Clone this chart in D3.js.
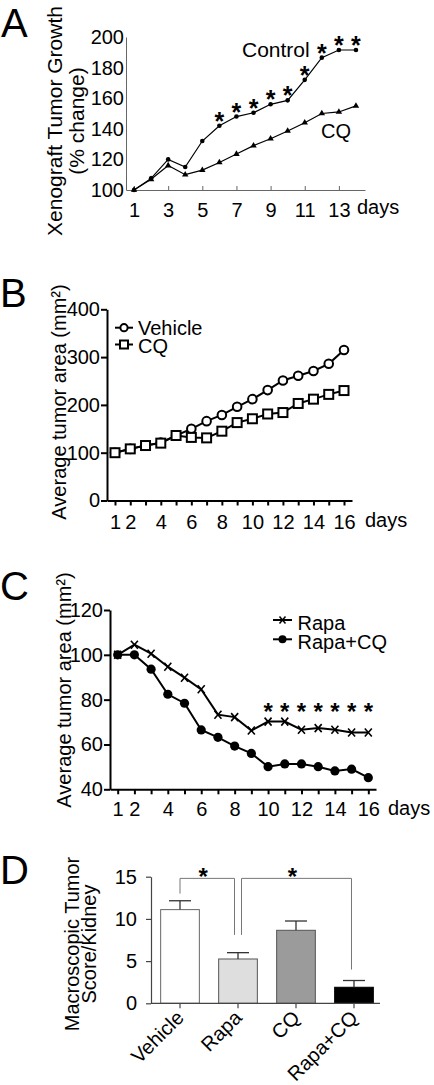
<!DOCTYPE html>
<html><head><meta charset="utf-8">
<script src="https://cdn.jsdelivr.net/npm/d3@7"></script>
<style>
body{margin:0;background:#fff;}
svg{display:block;font-family:"Liberation Sans",Arial,Helvetica,sans-serif;}
</style></head><body>
<svg id="c" width="434" height="1085"></svg>
<script>
// ---------- Panel A data ----------
const daysA = [1,2,3,4,5,6,7,8,9,10,11,12,13,14];
const controlA = [100,107.6,120,115,132,142,148,150.5,156,158.6,172,186.5,191.5,191.5];
const cqA = [100,107,116,110,113,118,123.5,129,133.5,138.6,144,150,151,155];
const sigDaysA = [6,7,8,9,10,11,12,13,14];
const xTicksA = [1,3,5,7,9,11,13];
const yTicksA = [100,120,140,160,180,200];

// ---------- Panel B data ----------
const daysB = [1,2,3,4,5,6,7,8,9,10,11,12,13,14,15,16];
const vehicleB = [100,108,115,121,136,150,166,179,196,212,231,251,261,271,286,315];
const cqB = [100,108,115,120,136,132,131,145,163,171,181,184,203,212,222,230];
const xTicksB = [1,2,4,6,8,10,12,14,16];
const yTicksB = [0,100,200,300,400];

// ---------- Panel C data ----------
const daysC = [1,2,3,4,5,6,7,8,9,10,11,12,13,14,15,16];
const rapaC = [100,104.5,100.5,94.7,89.8,84.6,73.3,72.2,66.2,70.2,70.2,66.6,67.3,66.6,65.3,65.3];
const rapaCqC = [100,100,93.6,82.4,78.4,66.5,63.2,59.3,56,50.1,51.3,51.3,50.1,48.2,49,45.2];
const sigDaysC = [10,11,12,13,14,15,16];
const xTicksC = [1,2,4,6,8,10,12,14,16];
const yTicksC = [40,60,80,100,120];

// ---------- Panel D data ----------
const groupsD = ["Vehicle","Rapa","CQ","Rapa+CQ"];
const meansD = [11.1,5.25,8.65,1.9];
const semD = [1.05,0.75,1.1,0.8];
const yTicksD = [0,5,10,15];

const svg = d3.select("#c");
const FS = 20;

function panelLetter(t, x, y){
  svg.append("text").attr("x",x).attr("y",y).attr("font-size",40).text(t);
}
function rotTitle(lines, cy, baselines, fs){
  lines.forEach((l,i)=>{
    svg.append("text").attr("transform",`translate(${baselines[i]},${cy}) rotate(-90)`)
      .attr("text-anchor","middle").attr("font-size",fs).text(l);
  });
}
function styleAxis(g, w, color){
  g.selectAll("path,line").attr("stroke",color).attr("stroke-width",w);
  g.selectAll("text").attr("font-size",FS).attr("fill","#000").attr("font-family","Liberation Sans, Arial, sans-serif");
}

// ================= Panel A =================
{
  const x = d3.scaleLinear().domain([0.53,14.53]).range([126,365]);
  const y = d3.scaleLinear().domain([100,200]).range([190,37]);
  const gx = svg.append("g").attr("transform","translate(0,190)")
    .call(d3.axisBottom(x).tickValues(xTicksA).tickSizeInner(-4).tickSizeOuter(0).tickPadding(13));
  styleAxis(gx,1,"#666");
  const gy = svg.append("g").attr("transform","translate(126,0)")
    .call(d3.axisLeft(y).tickValues(yTicksA).tickSizeInner(0).tickSizeOuter(0).tickPadding(2));
  styleAxis(gy,1,"#666");
  const line = d3.line().x((d,i)=>x(daysA[i])).y(d=>y(d));
  svg.append("path").datum(controlA).attr("d",line).attr("fill","none").attr("stroke","#000").attr("stroke-width",1.2);
  svg.append("path").datum(cqA).attr("d",line).attr("fill","none").attr("stroke","#000").attr("stroke-width",1.2);
  svg.selectAll(".ca").data(controlA).join("circle").attr("cx",(d,i)=>x(daysA[i])).attr("cy",d=>y(d)).attr("r",2.3).attr("fill","#000");
  svg.selectAll(".ta").data(cqA).join("path").attr("transform",(d,i)=>`translate(${x(daysA[i])},${y(d)})`)
    .attr("d",d3.symbol(d3.symbolTriangle,18)).attr("fill","#000");
  svg.selectAll(".sa").data(sigDaysA).join("text")
    .attr("x",d=>x(d)).attr("y",d=>y(controlA[daysA.indexOf(d)])+4)
    .attr("text-anchor","middle").attr("font-size",25).attr("font-weight","bold").text("*");
  svg.append("text").attr("x",242).attr("y",57).attr("font-size",21).text("Control");
  svg.append("text").attr("x",321).attr("y",138).attr("font-size",20).text("CQ");
  svg.append("text").attr("x",357).attr("y",214).attr("font-size",FS).text("days");
  rotTitle(["Xenograft Tumor Growth","(% change)"],121,[62,84],21);
  panelLetter("A",1,37);
}

// ================= Panel B =================
{
  const x = d3.scaleLinear().domain([0.476,16.524]).range([107,352]);
  const y = d3.scaleLinear().domain([0,400]).range([500.5,309.3]);
  const gx = svg.append("g").attr("transform","translate(0,500.5)")
    .call(d3.axisBottom(x).tickValues(daysB).tickFormat(d=>xTicksB.includes(d)?d:"").tickSizeInner(5).tickSizeOuter(0).tickPadding(9));
  styleAxis(gx,2,"#000");
  const gy = svg.append("g").attr("transform","translate(107,0)")
    .call(d3.axisLeft(y).tickValues(yTicksB).tickSizeInner(6).tickSizeOuter(0).tickPadding(1));
  styleAxis(gy,2,"#000");
  const line = d3.line().x((d,i)=>x(daysB[i])).y(d=>y(d));
  svg.append("path").datum(vehicleB).attr("d",line).attr("fill","none").attr("stroke","#000").attr("stroke-width",2);
  svg.append("path").datum(cqB).attr("d",line).attr("fill","none").attr("stroke","#000").attr("stroke-width",2);
  svg.selectAll(".cb").data(vehicleB).join("circle").attr("cx",(d,i)=>x(daysB[i])).attr("cy",d=>y(d)).attr("r",4.3)
    .attr("fill","#fff").attr("stroke","#000").attr("stroke-width",2);
  svg.selectAll(".sb").data(cqB).join("rect").attr("x",(d,i)=>x(daysB[i])-4.5).attr("y",d=>y(d)-4.5).attr("width",9).attr("height",9)
    .attr("fill","#fff").attr("stroke","#000").attr("stroke-width",2);
  // legend
  svg.append("line").attr("x1",115).attr("x2",133).attr("y1",327.7).attr("y2",327.7).attr("stroke","#000").attr("stroke-width",2);
  svg.append("circle").attr("cx",124).attr("cy",327.7).attr("r",3.6).attr("fill","#fff").attr("stroke","#000").attr("stroke-width",2);
  svg.append("line").attr("x1",115).attr("x2",133).attr("y1",344.5).attr("y2",344.5).attr("stroke","#000").attr("stroke-width",2);
  svg.append("rect").attr("x",120).attr("y",340.5).attr("width",8).attr("height",8).attr("fill","#fff").attr("stroke","#000").attr("stroke-width",2);
  svg.append("text").attr("x",138).attr("y",334.5).attr("font-size",20).text("Vehicle");
  svg.append("text").attr("x",138).attr("y",352.5).attr("font-size",20).text("CQ");
  svg.append("text").attr("x",365).attr("y",527).attr("font-size",FS).text("days");
  rotTitle(["Average tumor area (mm²)"],402,[66],20);
  panelLetter("B",0,307);
}

// ================= Panel C =================
{
  const x = d3.scaleLinear().domain([0.54,16.46]).range([110,376]);
  const y = d3.scaleLinear().domain([40,120]).range([789.3,610]);
  const gx = svg.append("g").attr("transform","translate(0,789.3)")
    .call(d3.axisBottom(x).tickValues(daysC).tickFormat(d=>xTicksC.includes(d)?d:"").tickSizeInner(5).tickSizeOuter(0).tickPadding(8));
  styleAxis(gx,2,"#000");
  const gy = svg.append("g").attr("transform","translate(110,0)")
    .call(d3.axisLeft(y).tickValues(yTicksC).tickSizeInner(6).tickSizeOuter(0).tickPadding(1));
  styleAxis(gy,2,"#000");
  const line = d3.line().x((d,i)=>x(daysC[i])).y(d=>y(d));
  svg.append("path").datum(rapaC).attr("d",line).attr("fill","none").attr("stroke","#000").attr("stroke-width",2);
  svg.append("path").datum(rapaCqC).attr("d",line).attr("fill","none").attr("stroke","#000").attr("stroke-width",2);
  svg.selectAll(".xc").data(rapaC).join("path").attr("transform",(d,i)=>`translate(${x(daysC[i])},${y(d)})`)
    .attr("d","M-3.5,-4L3.5,4M-3.5,4L3.5,-4").attr("stroke","#000").attr("stroke-width",1.6);
  svg.selectAll(".cc").data(rapaCqC).join("circle").attr("cx",(d,i)=>x(daysC[i])).attr("cy",d=>y(d)).attr("r",4.6).attr("fill","#000");
  svg.selectAll(".sc").data(sigDaysC).join("text").attr("x",d=>x(d)).attr("y",y(77)+14)
    .attr("text-anchor","middle").attr("font-size",24).attr("font-weight","bold").text("*");
  // legend
  svg.append("line").attr("x1",273).attr("x2",292).attr("y1",620).attr("y2",620).attr("stroke","#000").attr("stroke-width",2);
  svg.append("path").attr("transform","translate(282.5,620)").attr("d","M-3,-3.5L3,3.5M-3,3.5L3,-3.5").attr("stroke","#000").attr("stroke-width",1.5);
  svg.append("line").attr("x1",273).attr("x2",292).attr("y1",639.3).attr("y2",639.3).attr("stroke","#000").attr("stroke-width",2);
  svg.append("circle").attr("cx",282.5).attr("cy",639.3).attr("r",4).attr("fill","#000");
  svg.append("text").attr("x",297.5).attr("y",630).attr("font-size",20).text("Rapa");
  svg.append("text").attr("x",297.5).attr("y",649).attr("font-size",20).text("Rapa+CQ");
  svg.append("text").attr("x",388).attr("y",815).attr("font-size",FS).text("days");
  rotTitle(["Average tumor area (mm²)"],690,[71],20);
  panelLetter("C",0,600);
}

// ================= Panel D =================
{
  const x = d3.scaleBand().domain(groupsD).range([151,383]).paddingInner(0.333).paddingOuter(0.1667);
  const y = d3.scaleLinear().domain([0,15]).range([1003.3,876.7]);
  const fills = ["#fff","#dedede","#9b9b9b","#000"];
  const strokes = ["#666","#555","#555","#000"];
  svg.selectAll(".bd").data(meansD).join("rect")
    .attr("x",(d,i)=>x(groupsD[i])).attr("width",x.bandwidth())
    .attr("y",d=>y(d)).attr("height",d=>y(0)-y(d))
    .attr("fill",(d,i)=>fills[i]).attr("stroke",(d,i)=>strokes[i]).attr("stroke-width",1);
  const cx = i => x(groupsD[i]) + x.bandwidth()/2;
  semD.forEach((s,i)=>{
    svg.append("line").attr("x1",cx(i)).attr("x2",cx(i)).attr("y1",y(meansD[i])).attr("y2",y(meansD[i]+s)).attr("stroke","#333").attr("stroke-width",1.3);
    svg.append("line").attr("x1",cx(i)-11).attr("x2",cx(i)+11).attr("y1",y(meansD[i]+s)).attr("y2",y(meansD[i]+s)).attr("stroke","#333").attr("stroke-width",1.3);
  });
  const gx = svg.append("g").attr("transform","translate(0,1003.3)")
    .call(d3.axisBottom(x).tickSizeInner(5).tickSizeOuter(0).tickFormat(""));
  styleAxis(gx,1.2,"#444");
  gx.select(".domain").attr("d","M151,0H380");
  const gy = svg.append("g").attr("transform","translate(151,0)")
    .call(d3.axisLeft(y).tickValues(yTicksD).tickSizeInner(5).tickSizeOuter(0).tickPadding(9));
  styleAxis(gy,1.2,"#444");
  groupsD.forEach((g,i)=>{
    svg.append("text").attr("transform",`translate(${cx(i)+5},1019) rotate(-45)`)
      .attr("text-anchor","end").attr("font-size",FS).text(g);
  });
  // significance brackets
  const brackets = [
    {a:0, b:1, ob:-3.5, top:14.8, la:13.0, lb:8.1},
    {a:1, b:3, oa:3.5, ob:-2.5, top:14.8, la:8.1, lb:4.0}
  ];
  brackets.forEach(br=>{
    const xa = cx(br.a)+(br.oa||0), xb = cx(br.b)+(br.ob||0);
    svg.append("path").attr("d",`M${xa},${y(br.la)}V${y(br.top)}H${xb}V${y(br.lb)}`)
      .attr("fill","none").attr("stroke","#777").attr("stroke-width",1);
    svg.append("text").attr("x",(xa+xb)/2-4).attr("y",y(br.top)+7).attr("text-anchor","middle")
      .attr("font-size",24).attr("font-weight","bold").text("*");
  });
  rotTitle(["Macroscopic Tumor","Score/Kidney"],944,[79,96],20);
  panelLetter("D",0,884);
}
</script>
</body></html>
